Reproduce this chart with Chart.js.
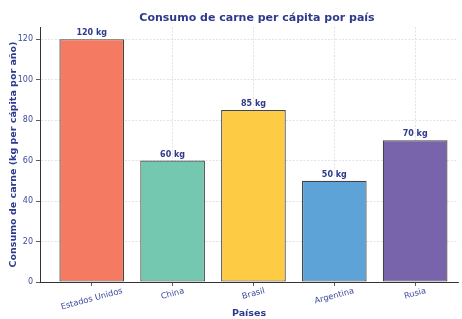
<!DOCTYPE html>
<html>
<head>
<meta charset="utf-8">
<script src="https://cdn.jsdelivr.net/npm/chart.js@4"></script>
<style>
  html, body { margin: 0; padding: 0; background: #fff; }
  #wrap { width: 462px; height: 319px; }
</style>
</head>
<body>
<div id="wrap"><canvas id="chart" width="462" height="319"></canvas></div>
<script>
var paises = ['Estados Unidos', 'China', 'Brasil', 'Argentina', 'Rusia'];
var consumo = [120, 60, 85, 50, 70];
var colores = ['#F47B61', '#74C8B0', '#FECB45', '#5EA3D7', '#7864AB'];
var yTicks = [0, 20, 40, 60, 80, 100, 120];

var azul = '#2E3A8C';
var azulTicks = '#3E4B9E';
var fuente = 'DejaVu Sans';

// titulo, etiquetas de barras y etiquetas rotadas del eje x
var extras = {
    id: 'extras',
    afterDraw: function (chart) {
        var ctx = chart.ctx;
        var area = chart.chartArea;
        var meta = chart.getDatasetMeta(0);
        ctx.save();
        ctx.fillStyle = azul;
        ctx.textAlign = 'center';
        ctx.textBaseline = 'middle';
        ctx.font = 'bold 11px "' + fuente + '"';
        ctx.fillText('Consumo de carne per cápita por país', 257, 18);

        ctx.font = 'bold 8px "' + fuente + '"';
        ctx.textBaseline = 'bottom';
        meta.data.forEach(function (bar, i) {
            ctx.fillText(consumo[i] + ' kg', bar.x, bar.y - 2);
        });

        ctx.font = '8.3px "' + fuente + '"';
        ctx.fillStyle = azulTicks;
        ctx.textBaseline = 'middle';
        var ang = 15 * Math.PI / 180;
        var xs = chart.scales.x;
        paises.forEach(function (p, i) {
            var w = ctx.measureText(p).width;
            var h = w * Math.sin(ang) + 8 * Math.cos(ang);
            var x = xs.getPixelForValue(i);
            ctx.save();
            ctx.translate(x, area.bottom + 5 + h / 2);
            ctx.rotate(-ang);
            ctx.fillText(p, 0, 0);
            ctx.restore();
        });
        ctx.restore();
    }
};

var grid = {
    color: 'rgba(0,0,0,0.14)',
    lineWidth: 0.8,
    tickColor: '#333',
    tickLength: 4,
    drawTicks: true,
    offset: false
};

new Chart(document.getElementById('chart'), {
    type: 'bar',
    data: {
        datasets: [{
            data: consumo.map(function (v, i) { return {x: i, y: v}; }),
            backgroundColor: colores,
            borderColor: '#444',
            borderWidth: 1.2,
            borderSkipped: false,
            barPercentage: 0.8,
            categoryPercentage: 1
        }]
    },
    options: {
        responsive: false,
        animation: false,
        layout: { padding: { top: 27, right: 4, left: 0, bottom: 0 } },
        plugins: {
            legend: { display: false },
            tooltip: { enabled: false },
            title: { display: false }
        },
        scales: {
            x: {
                type: 'linear',
                min: -0.64,
                max: 4.53,
                offset: false,
                z: 1,
                afterBuildTicks: function (s) {
                    s.ticks = paises.map(function (p, i) { return {value: i}; });
                },
                afterFit: function (s) { s.height = 37; },
                ticks: {
                    callback: function () { return ''; },
                    maxRotation: 0
                },
                grid: Object.assign({}, grid),
                border: { color: '#333', width: 1, dash: [2, 1.5] },
                title: {
                    display: true,
                    text: 'Países',
                    color: azul,
                    font: { family: fuente, size: 9.5, weight: 'bold' },
                    padding: { top: 0, bottom: 0 },
                    align: 'center'
                }
            },
            y: {
                min: 0,
                max: 126,
                z: 1,
                afterBuildTicks: function (s) {
                    s.ticks = yTicks.map(function (v) { return {value: v}; });
                },
                afterFit: function (s) { s.width = 40; },
                ticks: {
                    color: azulTicks,
                    font: { family: fuente, size: 8 },
                    padding: 3
                },
                grid: Object.assign({}, grid),
                border: { color: '#333', width: 1, dash: [2, 1.5] },
                title: {
                    display: true,
                    text: 'Consumo de carne (kg per cápita por año)',
                    color: azul,
                    font: { family: fuente, size: 9.5, weight: 'bold' },
                    padding: { top: 8, bottom: 0 }
                }
            }
        }
    },
    plugins: [extras]
});
</script>
</body>
</html>
